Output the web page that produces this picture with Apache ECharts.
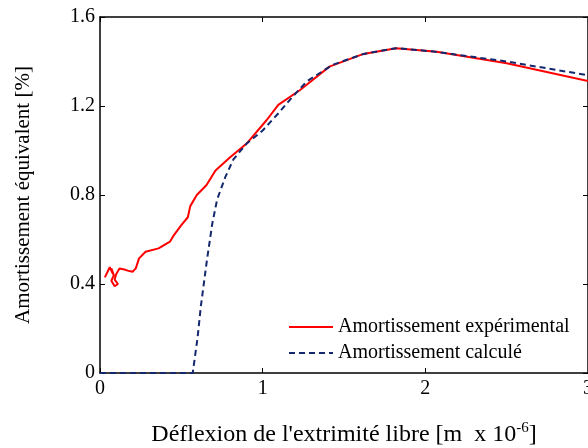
<!DOCTYPE html>
<html>
<head>
<meta charset="utf-8">
<script src="https://cdn.jsdelivr.net/npm/echarts@6/dist/echarts.min.js"></script>
<style>
  html, body { margin: 0; padding: 0; background: #fff; }
  #chart { width: 588px; height: 448px; }
</style>
</head>
<body>
<div id="chart"></div>
<script>
// Measured damping, [deflection, damping %]
const experimental = [
  [0.03, 0.43], [0.06, 0.475], [0.08, 0.445], [0.07, 0.47], [0.085, 0.44],
  [0.07, 0.415], [0.09, 0.39], [0.11, 0.40], [0.09, 0.42], [0.10, 0.445],
  [0.12, 0.47], [0.15, 0.465], [0.17, 0.46], [0.20, 0.455], [0.22, 0.47],
  [0.24, 0.515], [0.28, 0.545], [0.36, 0.56], [0.43, 0.59], [0.45, 0.615],
  [0.50, 0.665], [0.54, 0.70], [0.555, 0.75], [0.595, 0.80], [0.655, 0.845],
  [0.71, 0.91], [0.80, 0.97], [0.90, 1.03], [1.025, 1.137], [1.096, 1.205],
  [1.23, 1.272], [1.41, 1.377], [1.62, 1.434], [1.82, 1.46], [2.07, 1.444],
  [2.50, 1.392], [3.00, 1.312]
];

// Computed damping, [deflection, damping %]
const computed = [
  [0, 0], [0.57, 0], [0.60, 0.16], [0.62, 0.30], [0.656, 0.50], [0.69, 0.67],
  [0.72, 0.78], [0.77, 0.88], [0.82, 0.96], [0.90, 1.03], [1.00, 1.09],
  [1.10, 1.17], [1.17, 1.23], [1.27, 1.31], [1.43, 1.385], [1.62, 1.434],
  [1.82, 1.46], [2.05, 1.445], [2.50, 1.40], [3.00, 1.338]
];

const seriesNames = ['Amortissement expérimental', 'Amortissement calculé'];
const xTitle = "Déflexion de l'extrimité libre [m  x 10{sup|-6}]";
const yTitle = 'Amortissement équivalent [%]';

const FONT = '"Liberation Serif", "Times New Roman", serif';
const axisLine = { show: true, onZero: false, lineStyle: { color: '#000', width: 1.5 } };
const tickIn = { show: true, inside: true, length: 5, lineStyle: { color: '#000', width: 1 } };

const chart = echarts.init(document.getElementById('chart'), null, { renderer: 'canvas' });
chart.setOption({
  animation: false,
  backgroundColor: '#fff',
  grid: { left: 100, top: 17, right: 0, bottom: 75, containLabel: false, outerBoundsMode: 'none' },
  legend: {
    left: 283, top: 312, orient: 'vertical', itemWidth: 44, itemHeight: 14, itemGap: 6,
    itemStyle: { opacity: 0 },
    textStyle: { fontFamily: FONT, fontSize: 20, color: '#000' },
    data: seriesNames
  },
  xAxis: [{
    type: 'value', min: 0, max: 3, interval: 1, position: 'bottom',
    axisLine, axisTick: tickIn, splitLine: { show: false },
    axisLabel: { fontFamily: FONT, fontSize: 20, color: '#000', margin: 6 },
    name: xTitle, nameLocation: 'middle', nameGap: 48,
    nameTextStyle: {
      fontFamily: FONT, fontSize: 24, color: '#000',
      rich: { sup: { fontFamily: FONT, fontSize: 15, color: '#000', verticalAlign: 'top', padding: [0, 0, 12, 0] } }
    }
  }, {
    type: 'value', min: 0, max: 3, interval: 1, position: 'top',
    axisLine, axisTick: tickIn, axisLabel: { show: false }, splitLine: { show: false }
  }],
  yAxis: [{
    type: 'value', min: 0, max: 1.6, interval: 0.4, position: 'left',
    axisLine, axisTick: tickIn, splitLine: { show: false },
    axisLabel: {
      fontFamily: FONT, fontSize: 20, color: '#000', margin: 5,
      formatter: v => (v === 0 ? '0' : v.toFixed(1))
    },
    name: yTitle, nameLocation: 'middle', nameRotate: 90, nameGap: 66,
    nameTextStyle: { fontFamily: FONT, fontSize: 21, color: '#000' }
  }, {
    type: 'value', min: 0, max: 1.6, interval: 0.4, position: 'right',
    axisLine, axisTick: tickIn, axisLabel: { show: false }, splitLine: { show: false }
  }],
  series: [{
    name: seriesNames[0], type: 'line', data: experimental,
    showSymbol: false, symbol: 'none',
    lineStyle: { color: '#ff0000', width: 2 }, itemStyle: { color: '#ff0000' }, z: 3
  }, {
    name: seriesNames[1], type: 'line', data: computed,
    showSymbol: false, symbol: 'none',
    lineStyle: { color: '#14286e', width: 2, type: [6, 4] }, itemStyle: { color: '#14286e' }, z: 4
  }]
});
</script>
</body>
</html>
